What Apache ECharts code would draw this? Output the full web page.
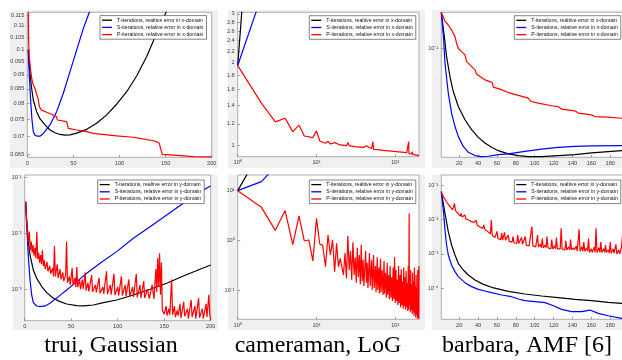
<!DOCTYPE html>
<html><head><meta charset="utf-8">
<script src="https://cdn.jsdelivr.net/npm/echarts@6/dist/echarts.min.js"></script>
<style>html,body{margin:0;padding:0;background:#fff}#c{width:622px;height:360px}</style>
</head><body><div id="c"></div>
<script>
// ---------- names / captions ----------
const namesX = ['T-iterations, realtive error in x-domain','S-iterations, relative error in x-domain','P-iterations, relative error in x-domain'];
const namesY = ['T-iterations, realtive error in y-domain','S-iterations, relative error in y-domain','P-iterations, relative error in y-domain'];
const captions = ['trui, Gaussian','cameraman, LoG','barbara, AMF [6]'];

// ---------- tick label values ----------
const p1XTicks = [0,50,100,150,200];
const p1YTicks = [0.065,0.07,0.075,0.08,0.085,0.09,0.095,0.1,0.105,0.11,0.115];
const p2XTicks = [1,10,100];
const p2YTicks = [1,1.2,1.4,1.6,1.8,2,2.2,2.4,2.6,2.8,3];
const p3XTicks = [20,40,60,80,100,120,140,160,180];
const p3YTicks = [0.1];
const p4YTicks = [0.001,0.01,0.1];
const p5YTicks = [0.1,1,10];
const p6YTicks = [0.0001,0.001,0.01,0.1];

// ---------- panel 1: trui, Gaussian (x-domain) ----------
const p1T = [[1,0.0996],[2.9,0.0906],[4.7,0.0852],[6.5,0.0812],[10.1,0.0774],[13.7,0.0752],[19.2,0.0733],[24.6,0.0718],[30,0.0710],[35.4,0.0705],[40.9,0.0703],[46.3,0.0704],[53.5,0.0709],[64.4,0.0720],[75.2,0.0738],[86.1,0.0764],[96.9,0.0798],[107.8,0.0840],[118.6,0.0896],[129.5,0.0970],[140.3,0.1067],[150.5,0.1163],[156,0.123]];
const p1S = [[1,0.0996],[2.2,0.0894],[3.6,0.0812],[5.1,0.0748],[6.5,0.0713],[8.3,0.0703],[10.8,0.0700],[13.7,0.0700],[17.4,0.0708],[24.6,0.0733],[31.8,0.0774],[39,0.0834],[46.3,0.0912],[53.5,0.0996],[60.8,0.1089],[67.3,0.1163],[71,0.122]];
const p1P = [[1,0.118],[1.4,0.1038],[2.2,0.0970],[3.6,0.0918],[5.1,0.0881],[6.5,0.0864],[8.3,0.0852],[10.1,0.0832],[11.9,0.0814],[13,0.0790],[15.6,0.0779],[21,0.0772],[26.4,0.0766],[31.8,0.0758],[32.5,0.0748],[42.7,0.0743],[44.5,0.0723],[53.5,0.0718],[64.4,0.0713],[71.6,0.0708],[78.8,0.0706],[96.9,0.0701],[115,0.0697],[122.2,0.0694],[124,0.0689],[136.7,0.0687],[140.3,0.0684],[143.2,0.0680],[145,0.0661],[146.5,0.0650],[158.4,0.0648],[160.2,0.0646],[180.1,0.0644],[200,0.0643]];

// ---------- panel 2: cameraman, LoG (x-domain) ----------
const p2T = [[1,1.95],[2,26],[3,120]];
const p2S = [[1,1.95],[2,3.47],[3,6.5]];
const p2P = [[1,1.95],[2,1.425],[3,1.219],[4,1.257],[5,1.124],[6,1.186],[7,1.084],[9,1.069],[10,1.131],[11,1.040],[13,1.020],[14,1.037],[15,1.014],[17,1.026],[18,1.011],[20,1.006],[24,1.000],[25,1.026],[26,1.000],[30,0.992],[40,0.986],[43,1.000],[44,0.984],[50,0.975],[52,1.034],[53,0.970],[60,0.967],[63,0.981],[64,0.965],[70,0.962],[90,0.956],[95,0.970],[96,0.954],[100,0.951],[140,0.943],[147,0.943],[148,1.034],[149,0.938],[160,0.933],[165,0.951],[166,0.930],[170,0.925],[200,0.920]];

// ---------- panel 3: barbara, AMF (x-domain) ----------
const p3T = [[1,0.174],[4.2,0.1196],[6.6,0.088],[10.2,0.0647],[13.7,0.0514],[19,0.0408],[26.1,0.0333],[33.1,0.0286],[40.2,0.0254],[47.2,0.0233],[54.3,0.0218],[61.4,0.0207],[72,0.0197],[82.6,0.0192],[93.2,0.0189],[107.3,0.0189],[124.9,0.0192],[142.6,0.0195],[160.2,0.0200],[177.9,0.0204],[192,0.0207],[200,0.0208]];
const p3S = [[1,0.174],[3.5,0.1137],[4.9,0.0794],[8.4,0.0501],[11.9,0.0369],[15.5,0.0300],[19,0.0258],[24.3,0.0221],[29.6,0.0202],[36.7,0.0192],[43.7,0.0189],[50.8,0.0190],[61.4,0.0195],[72,0.0197],[89.6,0.0205],[107.3,0.0212],[124.9,0.0218],[142.6,0.0221],[160.2,0.0223],[192,0.0224],[200,0.0224]];
const p3P = [[1,0.174],[3,0.163],[5,0.151],[8.4,0.143],[11.9,0.1325],[15.5,0.1196],[17.2,0.108],[19,0.100],[22.5,0.095],[26.1,0.0903],[27,0.0880],[27.8,0.0815],[31.4,0.0774],[36.7,0.0717],[37.5,0.0700],[38.4,0.0674],[42,0.0647],[47.2,0.0615],[52.5,0.0599],[55,0.0590],[56.1,0.0550],[63.1,0.0533],[72,0.0506],[82.6,0.0484],[93.2,0.0464],[96,0.0441],[103.7,0.0430],[117.9,0.0413],[124.9,0.0408],[128.5,0.0392],[142.6,0.0382],[146.1,0.0369],[160.2,0.0359],[163.8,0.0350],[177.9,0.0347],[192,0.0341],[200,0.0339]];

// ---------- panel 4: trui, Gaussian (y-domain) ----------
const p4T = [[1,0.0368],[2.2,0.0173],[3.9,0.0071],[5.7,0.0041],[9.3,0.00221],[12.9,0.00157],[18.3,0.00112],[23.7,0.000872],[30.8,0.000691],[38,0.000602],[45.2,0.000547],[55.9,0.000511],[63.1,0.000504],[73.8,0.000525],[84.6,0.000578],[98.9,0.000645],[116.8,0.000792],[134.8,0.001],[152.7,0.00128],[170.6,0.00173],[188.5,0.00228],[200,0.00272]];
const p4S = [[1,0.0368],[2.2,0.01316],[3.9,0.00383],[5.7,0.00147],[7.5,0.000792],[9.3,0.000578],[12.9,0.000504],[16.5,0.00049],[21.9,0.000504],[27.2,0.000562],[36.2,0.00074],[45.2,0.000973],[55.9,0.00137],[66.7,0.00193],[81,0.00291],[98.9,0.00471],[116.8,0.00815],[134.8,0.01316],[152.7,0.0212],[170.6,0.0343],[188.5,0.0554],[200,0.070]];
const p4P = [[1,0.0368],[2,0.0173],[3,0.0105],[4,0.0071],[5,0.0107],[6,0.0050],[7,0.0071],[8,0.0045],[9,0.0062],[10,0.0040],[11,0.0055],[12,0.0036],[13,0.0107],[14,0.0035],[15,0.0045],[16,0.0030],[17,0.0041],[18,0.0028],[19,0.0050],[20,0.0026],[21,0.0033],[22,0.0023],[24,0.0031],[25,0.0021],[27,0.0026],[28,0.0019],[30,0.0024],[31,0.0017],[32,0.0059],[33,0.0017],[35,0.0028],[36,0.0016],[38,0.0023],[39,0.0015],[41,0.0020],[42,0.0014],[44,0.0018],[45,0.0071],[46,0.0013],[48,0.0017],[49,0.0012],[51,0.0024],[52,0.0012],[54,0.0016],[55,0.0011],[56,0.0025],[57,0.0011],[59,0.0015],[60,0.0010],[62,0.0015],[63,0.0010],[65,0.0020],[66,0.00095],[68,0.0013],[69,0.00092],[72,0.0018],[73,0.00090],[76,0.0012],[77,0.00088],[80,0.0016],[81,0.00085],[84,0.0011],[85,0.00083],[88,0.0021],[89,0.00082],[92,0.0012],[93,0.00080],[96,0.0019],[97,0.00079],[100,0.0011],[101,0.00078],[104,0.0017],[105,0.00077],[108,0.0012],[109,0.00076],[112,0.0015],[113,0.00074],[116,0.0011],[117,0.00073],[120,0.0019],[121,0.00072],[124,0.0012],[125,0.00070],[128,0.0014],[129,0.00070],[132,0.0010],[134,0.00068],[137,0.0012],[139,0.00067],[141,0.0023],[142,0.0009],[143,0.0036],[144,0.0011],[145,0.0044],[146,0.0008],[147,0.0030],[148,0.00042],[150,0.00036],[152,0.00050],[153,0.00034],[155,0.00045],[156,0.00035],[158,0.0015],[159,0.00035],[161,0.00050],[162,0.00032],[164,0.00042],[165,0.00034],[167,0.00055],[168,0.00031],[171,0.00060],[172,0.00033],[175,0.00045],[176,0.00030],[179,0.00065],[180,0.00032],[183,0.00050],[184,0.00030],[187,0.00070],[188,0.00031],[191,0.00045],[192,0.00030],[195,0.00055],[196,0.00032],[198,0.00080],[199,0.00035],[200,0.00028]];

// ---------- panel 5: cameraman, LoG (y-domain) ----------
const p5T = [[1,9.7],[2,65]];
const p5S = [[1,9.7],[2,14.7],[3,29],[4,60]];
const p5P = [[1,9.7],[2,4.5],[3,1.56],[4,3.87],[5,0.81],[6,3.02],[7,0.955],[8,1.0],[9,0.38],[10,2.71],[11,0.83],[12,0.78],[13,0.293],[14,1.26],[15,0.5],[16,1.0],[17,0.233],[18,0.86],[19,0.293],[20,0.43],[21,0.43],[22,0.20],[23,0.55],[24,0.17],[25,1.2],[26,0.25],[27,0.6],[28,0.16],[29,0.9],[30,0.2],[31,0.45],[32,0.14],[33,0.7],[34,0.18],[35,0.5],[36,0.13],[37,0.8],[38,0.15],[39,0.4],[40,0.12],[42,0.6],[43,0.14],[44,0.35],[45,0.11],[47,0.55],[48,0.12],[50,0.4],[51,0.10],[53,0.5],[54,0.11],[56,0.3],[57,0.09],[59,0.45],[60,0.10],[62,0.28],[63,0.085],[65,0.42],[66,0.09],[68,0.25],[70,0.08],[72,0.38],[73,0.085],[75,0.22],[77,0.07],[79,0.35],[80,0.08],[82,0.2],[84,0.065],[86,0.3],[88,0.07],[90,0.18],[92,0.06],[94,0.28],[96,0.065],[98,0.45],[100,0.055],[102,0.25],[104,0.06],[106,0.16],[108,0.05],[110,0.3],[112,0.055],[115,0.2],[117,0.045],[119,0.26],[121,0.05],[124,0.15],[126,0.042],[128,0.28],[130,0.048],[133,0.18],[135,0.04],[137,0.24],[139,0.045],[142,0.14],[144,0.038],[146,0.3],[148,0.04],[150,3.4],[151,0.05],[153,0.2],[155,0.036],[157,0.25],[159,0.04],[162,0.13],[164,0.033],[166,0.22],[168,0.037],[171,0.15],[173,0.03],[175,0.28],[177,0.034],[180,0.12],[182,0.028],[184,0.2],[186,0.032],[189,0.11],[191,0.027],[193,0.25],[195,0.03],[197,0.1],[199,0.026],[200,0.3]];

// ---------- panel 6: barbara, AMF (y-domain) ----------
const p6T = [[1,0.064],[4.9,0.0150],[8.4,0.00441],[11.9,0.00181],[15.5,0.000927],[19,0.000531],[24.3,0.00034],[29.6,0.000243],[36.7,0.000174],[45.5,0.00013],[54.3,0.000107],[72,0.0000816],[89.6,0.0000683],[107.3,0.0000598],[124.9,0.0000535],[142.6,0.0000478],[160.2,0.0000437],[177.9,0.0000391],[192,0.0000366],[200,0.0000355]];
const p6S = [[1,0.064],[3.5,0.015],[4.9,0.00493],[6.6,0.00181],[8.4,0.000927],[11.9,0.000475],[15.5,0.000304],[19,0.000218],[26.1,0.000146],[33.1,0.000112],[40.2,0.0000933],[47.2,0.0000835],[54.3,0.0000747],[64.9,0.0000639],[75.5,0.0000571],[82.6,0.0000489],[89.6,0.0000437],[100.2,0.0000409],[110.8,0.0000383],[117.9,0.0000327],[128.5,0.0000245],[139.1,0.000021],[149.6,0.000021],[158.5,0.0000234],[167.3,0.0000187],[177.9,0.000016],[192,0.0000134],[200,0.0000125]];
const p6P = [[1,0.064],[3,0.046],[5,0.038],[7,0.031],[9,0.026],[10,0.024],[11,0.022],[12,0.023],[13,0.019],[14,0.020],[15,0.029],[16,0.018],[17,0.017],[18,0.019],[19,0.0145],[20,0.0135],[21,0.0125],[22,0.015],[23,0.0118],[24,0.0112],[25,0.0108],[26,0.0135],[27,0.0104],[28,0.0100],[29,0.0098],[30,0.0096],[31,0.0092],[32,0.0105],[33,0.0086],[34,0.0080],[35,0.0078],[36,0.0082],[37,0.0072],[38,0.0096],[39,0.0068],[40,0.0063],[41,0.0077],[42,0.0060],[43,0.0058],[44,0.0062],[45,0.0055],[46,0.0069],[47,0.0052],[48,0.0050],[49,0.0047],[50,0.0045],[51,0.0048],[52,0.0041],[53,0.0038],[54,0.0096],[55,0.0034],[56,0.0032],[57,0.0035],[58,0.0030],[59,0.0029],[60,0.0045],[61,0.0028],[62,0.0027],[63,0.0031],[64,0.0026],[65,0.0040],[66,0.0025],[67,0.0026],[68,0.0042],[69,0.0025],[70,0.0024],[71,0.0028],[72,0.0035],[73,0.0023],[74,0.0022],[75,0.0025],[76,0.0022],[77,0.0032],[78,0.0021],[79,0.0020],[80,0.0021],[81,0.0020],[82,0.0035],[83,0.0020],[84,0.0019],[85,0.0022],[86,0.0030],[87,0.0019],[88,0.0018],[89,0.0021],[90,0.0032],[91,0.0018],[92,0.0018],[93,0.0020],[94,0.0017],[95,0.0019],[96,0.0017],[97,0.0062],[98,0.0017],[99,0.0016],[100,0.0018],[101,0.0016],[103,0.0035],[104,0.0016],[106,0.0019],[107,0.0015],[108,0.0028],[109,0.0015],[111,0.0018],[112,0.0015],[113,0.0032],[114,0.0015],[116,0.0017],[117,0.0014],[118,0.0026],[119,0.0014],[121,0.0017],[122,0.0014],[123,0.0030],[124,0.0014],[126,0.0016],[127,0.0014],[128,0.0055],[129,0.0014],[131,0.0016],[132,0.0013],[133,0.0024],[134,0.0013],[136,0.0016],[137,0.0013],[138,0.0026],[139,0.0013],[141,0.0015],[142,0.0013],[144,0.0017],[145,0.0012],[147,0.0052],[148,0.0012],[150,0.0016],[151,0.0012],[152,0.0022],[153,0.0012],[155,0.0015],[156,0.0012],[157,0.0028],[158,0.0011],[160,0.0014],[161,0.0011],[163,0.0016],[164,0.0011],[165,0.0055],[166,0.0011],[168,0.0015],[169,0.0011],[170,0.0022],[171,0.0011],[173,0.0014],[174,0.0011],[175,0.0018],[176,0.0011],[178,0.0013],[179,0.00105],[180,0.0022],[181,0.00105],[183,0.0014],[184,0.00105],[186,0.0019],[187,0.0010],[189,0.0013],[190,0.0010],[192,0.0016],[193,0.0035],[194,0.0010],[196,0.0013],[197,0.0016],[198,0.0010],[199,0.0011],[200,0.0012]];

// ---------- layout (positions / styles) ----------
const grids = [
  {left:27.3, top:12.3, width:184.4, height:145},
  {left:237.7, top:12.3, width:181.3, height:144.4},
  {left:441.3, top:12.3, width:187.8, height:145},
  {left:24.7, top:175, width:186, height:145.7},
  {left:237.7, top:175, width:181.3, height:144.3},
  {left:441.3, top:175, width:187.8, height:144.3}
];
const bgRects = [
  [10,10,208,158],[228,10,197,158],[432,10,190,158],
  [13,175,205,155],[228,175,197,155],[432,175,190,155]
];
const legendPos = [[100,15.6],[309.3,15.7],[514.3,15.7],[97.7,180],[309.3,180],[514.3,180]];
const captionX = [111,318,527];
const COLORS = ['#000000','#0000ff','#ff0000'];

const SUP = {'0':'⁰','1':'¹','2':'²','3':'³','4':'⁴','5':'⁵','6':'⁶','7':'⁷','8':'⁸','9':'⁹','-':'⁻'};
function powLabel(v){ const e = String(Math.round(Math.log10(v))); return '10' + e.split('').map(c=>SUP[c]).join(''); }
function numLabel(v){ return String(parseFloat(v.toFixed(4))); }

const LABEL = {fontSize:5.6, color:'#3c3c3c', fontFamily:'Liberation Sans', margin:3};
const TICK = {inside:true, length:2.5, lineStyle:{color:'#666', width:0.6}};

function xAx(i, type, min, max, ticks, fmt, interval){
  const a = {type, gridIndex:i, min, max, axisLine:{show:false}, splitLine:{show:false},
    axisTick:Object.assign({}, TICK), axisLabel:Object.assign({formatter:fmt}, LABEL)};
  if (type === 'log') a.logBase = 10;
  if (interval) { a.interval = interval; }
  else { a.axisTick.customValues = ticks; a.axisLabel.customValues = ticks; }
  return a;
}
function yAx(i, min, max, ticks, fmt){
  return {type:'log', logBase:10, gridIndex:i, min, max, axisLine:{show:false}, splitLine:{show:false},
    axisTick:Object.assign({customValues:ticks}, TICK), axisLabel:Object.assign({customValues:ticks, formatter:fmt}, LABEL)};
}

const xAxes = [
  xAx(0,'value',0,200,null,numLabel,50),
  xAx(1,'log',1,200,p2XTicks,powLabel),
  xAx(2,'value',1,200,p3XTicks,numLabel),
  xAx(3,'value',0,200,null,numLabel,50),
  xAx(4,'log',1,200,p2XTicks,powLabel),
  xAx(5,'value',1,200,p3XTicks,numLabel)
];
const yAxes = [
  yAx(0,0.0642,0.1163,p1YTicks,numLabel),
  yAx(1,0.912,3.04,p2YTicks,numLabel),
  yAx(2,0.0187,0.1738,p3YTicks,powLabel),
  yAx(3,0.000275,0.110,p4YTicks,powLabel),
  yAx(4,0.0259,19.95,p5YTicks,powLabel),
  yAx(5,0.0000126,0.195,p6YTicks,powLabel)
];

const panelData = [[p1T,p1S,p1P],[p2T,p2S,p2P],[p3T,p3S,p3P],[p4T,p4S,p4P],[p5T,p5S,p5P],[p6T,p6S,p6P]];
const series = [];
panelData.forEach((trip, i) => {
  const names = i < 3 ? namesX : namesY;
  trip.forEach((d, k) => {
    series.push({type:'line', name:names[k], data:d, xAxisIndex:i, yAxisIndex:i,
      symbol:'none', showSymbol:false, clip:true, animation:false,
      lineStyle:{color:COLORS[k], width:1.2}, itemStyle:{color:COLORS[k]}, z:2+k});
  });
});

const legends = legendPos.map((p, i) => ({
  orient:'vertical', left:p[0], top:p[1], data:(i < 3 ? namesX : namesY),
  icon:'rect', itemWidth:10, itemHeight:1.3, itemGap:1, padding:[1.5,3,1.5,2],
  backgroundColor:'#ffffff', borderColor:'#333', borderWidth:0.6, borderRadius:0,
  selectedMode:false, textStyle:{fontSize:5.2, lineHeight:6.2, color:'#111', fontFamily:'Liberation Sans'}
}));

const graphics = bgRects.map(r => ({type:'rect', z:-10, silent:true,
  shape:{x:r[0], y:r[1], width:r[2], height:r[3]}, style:{fill:'#f0f0f0'}}));
captions.forEach((t, i) => graphics.push({type:'text', x:captionX[i], y:346, z:10,
  style:{text:t, fill:'#000', font:'24px "Liberation Serif"', textAlign:'center', textVerticalAlign:'middle'}}));

const chart = echarts.init(document.getElementById('c'), null, {renderer:'canvas'});
chart.setOption({
  animation:false,
  backgroundColor:'#ffffff',
  grid: grids.map(g => Object.assign({show:true, backgroundColor:'#ffffff', borderColor:'#9a9a9a', borderWidth:0.8, containLabel:false, outerBoundsMode:'none'}, g)),
  xAxis: xAxes, yAxis: yAxes, legend: legends, series, graphic: graphics
});
</script></body></html>
